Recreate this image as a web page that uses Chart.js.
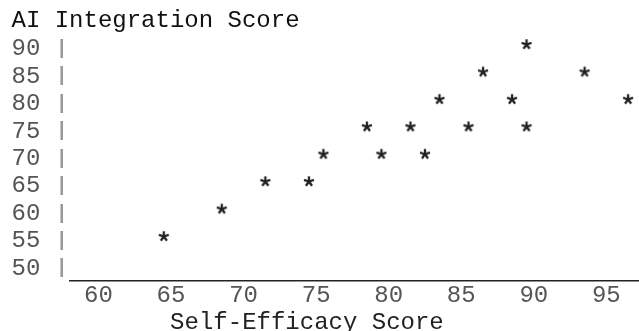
<!DOCTYPE html>
<html>
<head>
<meta charset="utf-8">
<script src="https://cdn.jsdelivr.net/npm/chart.js@4.4.0/dist/chart.umd.min.js"></script>
<style>
  html, body { margin: 0; padding: 0; background: #fff; }
  #wrap { width: 639px; height: 331px; position: relative; }
</style>
</head>
<body>
<div id="wrap"><canvas id="chart"></canvas></div>
<script>
// data
const xTicks = [60, 65, 70, 75, 80, 85, 90, 95];
const yTicks = [50, 55, 60, 65, 70, 75, 80, 85, 90];
const selfEfficacy = [65, 69, 72, 75, 76, 79, 80, 82, 83, 84, 86, 87, 89, 90, 90, 94, 97];
const aiIntegration = [55, 60, 65, 65, 70, 75, 70, 75, 70, 80, 75, 85, 80, 90, 75, 85, 80];

const MONO = '"Liberation Mono", "Courier New", monospace';
const FONT_SIZE = 24;

// the marker is a five-armed asterisk like the Courier "*", sitting a bit above the line middle
function makeStar() {
  const c = document.createElement("canvas");
  c.width = 16;
  c.height = 28;
  const g = c.getContext("2d");
  const cx = 8;
  const cy = 14 - 4.5;
  g.strokeStyle = "#222";
  g.lineWidth = 2.3;
  g.lineCap = "butt";
  for (let k = 0; k < 5; k++) {
    const a = -Math.PI / 2 + (k * 2 * Math.PI) / 5;
    g.beginPath();
    g.moveTo(cx, cy);
    g.lineTo(cx + 5.2 * Math.cos(a), cy + 5.2 * Math.sin(a));
    g.stroke();
  }
  return c;
}

function setTicks(list) {
  return (scale) => {
    scale.ticks = list.map((v) => ({ value: v }));
  };
}

function noPadding(s) {
  s.paddingLeft = 0;
  s.paddingRight = 0;
  s.paddingTop = 0;
  s.paddingBottom = 0;
}

const points = selfEfficacy.map((x, i) => ({ x: x, y: aiIntegration[i] }));

const yRange = { min: 47.775, max: 92.48 };

new Chart(document.getElementById("chart"), {
  type: "scatter",
  data: {
    datasets: [
      {
        data: points,
        pointStyle: makeStar(),
        pointRadius: 5,
        clip: false
      }
    ]
  },
  options: {
    responsive: true,
    maintainAspectRatio: false,
    animation: false,
    layout: { autoPadding: false, padding: { left: 11.5, right: 0, top: 0, bottom: 0 } },
    plugins: {
      legend: { display: false },
      tooltip: { enabled: false },
      title: {
        display: true,
        text: "AI Integration Score",
        align: "start",
        color: "#111",
        font: { family: MONO, size: FONT_SIZE, weight: "normal", lineHeight: 1.2 },
        padding: { top: 6.6, bottom: 0 }
      }
    },
    scales: {
      x: {
        type: "linear",
        min: 58.49,
        max: 97.75,
        grid: { display: false },
        border: { display: true, color: "#222", width: 1.5 },
        afterBuildTicks: setTicks(xTicks),
        afterFit: (s) => { s.height = 50.5; noPadding(s); },
        ticks: {
          color: "#555",
          padding: -5,
          labelOffset: 7.25,
          maxRotation: 0,
          autoSkip: false,
          font: { family: MONO, size: FONT_SIZE, lineHeight: 1 }
        },
        title: {
          display: true,
          text: "       Self-Efficacy Score",
          align: "start",
          color: "#222",
          font: { family: MONO, size: FONT_SIZE, lineHeight: 0.8 },
          padding: { top: 0, bottom: -1 }
        }
      },
      y: {
        type: "linear",
        position: "left",
        weight: 1,
        min: yRange.min,
        max: yRange.max,
        grid: { display: false },
        border: { display: false },
        afterBuildTicks: setTicks(yTicks),
        afterFit: (s) => { s.width = 44.2; noPadding(s); },
        ticks: {
          color: "#555",
          padding: 0,
          crossAlign: "far",
          autoSkip: false,
          font: { family: MONO, size: FONT_SIZE, lineHeight: 1 }
        }
      },
      yBar: {
        type: "linear",
        position: "left",
        weight: 0,
        min: yRange.min,
        max: yRange.max,
        grid: { display: false },
        border: { display: false },
        afterBuildTicks: setTicks(yTicks),
        afterFit: (s) => { s.width = 13.6; noPadding(s); },
        ticks: {
          color: "#999",
          padding: 0,
          crossAlign: "far",
          autoSkip: false,
          callback: () => "|",
          font: { family: MONO, size: 20, weight: "bold", lineHeight: 1 }
        }
      }
    }
  }
});
</script>
</body>
</html>
